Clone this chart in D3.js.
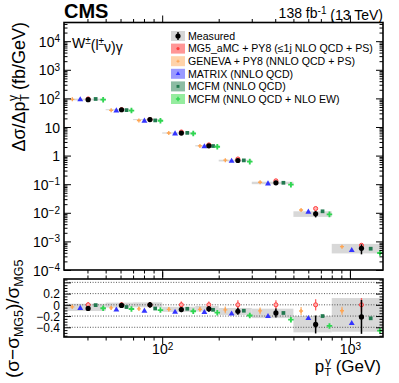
<!DOCTYPE html>
<html><head><meta charset="utf-8">
<script src="https://cdn.jsdelivr.net/npm/d3@7"></script>
<style>
body{margin:0;background:#fff}
svg{display:block}
text{font-family:"Liberation Sans",Arial,Helvetica,sans-serif;fill:#000}
</style>
</head><body>
<svg id="c" width="399" height="383"></svg>
<script>
// ---------------- data ----------------
const binLo = [30, 50, 70, 100, 150, 200, 300, 500, 800];
const binHi = [50, 70, 100, 150, 200, 300, 500, 800, 1500];

const measured        = [89.8, 40.1, 18.2, 6.13, 2.20, 0.673, 0.112, 0.00917, 0.000573];
const measuredStatErr = [3.8, 1.8, 0.9, 0.30, 0.12, 0.046, 0.0105, 0.00226, 0.00022];
const measuredTotLo   = [85.4, 38.5, 17.4, 5.86, 2.09, 0.623, 0.100, 0.00719, 0.000380];
const measuredTotHi   = [97.9, 42.1, 19.0, 6.47, 2.32, 0.718, 0.122, 0.01128, 0.000818];

const mg5     = [96.0, 40.5, 18.2, 6.70, 2.37, 0.760, 0.131, 0.0141, 0.00073];
const mg5Err  = [4.8, 2.0, 0.91, 0.40, 0.14, 0.061, 0.0105, 0.00141, 0.000088];
const geneva    = [92.6, 38.3, 16.9, 6.16, 2.18, 0.692, 0.117, 0.01255, 0.000653];
const genevaErr = [2.9, 1.2, 0.64, 0.27, 0.107, 0.046, 0.0079, 0.00099, 0.000051];
const matrix    = [90.2, 36.9, 16.2, 5.83, 2.05, 0.638, 0.104, 0.0107, 0.000489];
const matrixErr = [1.4, 0.6, 0.27, 0.10, 0.036, 0.011, 0.002, 0.0002, 0.00001];
const mcfm      = [95.5, 38.9, 17.0, 6.23, 2.16, 0.680, 0.112, 0.01128, 0.000555];
const mcfmErr   = [1.4, 0.6, 0.27, 0.10, 0.036, 0.011, 0.002, 0.0002, 0.00001];
const mcfmEW    = [90.2, 37.5, 16.5, 5.93, 2.04, 0.616, 0.0963, 0.00881, 0.000394];
const mcfmEWErr = [1.8, 0.75, 0.33, 0.12, 0.041, 0.012, 0.0019, 0.00018, 0.00001];

const yTickVals   = [1e-4, 1e-3, 1e-2, 1e-1, 1, 10, 1e2, 1e3, 1e4];
const yTickLabels = [["10","−4"],["10","−3"],["10","−2"],["10","−1"],["1",""],["10",""],["10","2"],["10","3"],["10","4"]];
const xTickVals   = [100, 1000];
const xTickLabels = [["10","2"],["10","3"]];
const ratioTickVals   = [-0.4, -0.2, 0, 0.2];
const ratioTickLabels = ["−0.4", "−0.2", "0", "0.2"];
const ratioGridVals   = [-0.4, -0.2, 0, 0.2, 0.4];

const legendLabels = ["Measured", "MG5_aMC + PY8 (≤1j NLO QCD + PS)", "GENEVA + PY8 (NNLO QCD + PS)",
                      "MATRIX (NNLO QCD)", "MCFM (NNLO QCD)", "MCFM (NNLO QCD + NLO EW)"];

// ---------------- layout ----------------
const svg = d3.select("#c");
const L = 64, R = 383, T1 = 22.5, B1 = 270, T2 = 279, B2 = 337;

const x  = d3.scaleLog().domain([30, 1500]).range([L, R]);
const y  = d3.scaleLog().domain([1e-4, 4.5e4]).range([B1, T1]);
const yr = d3.scaleLinear().domain([-0.573, 0.46]).range([B2, T2]);

const posAt = (i, f) => x(binLo[i] * Math.pow(binHi[i] / binLo[i], f));

const series = [
  {name:"mg5",    vals:mg5,    errs:mg5Err,    f:0.58, color:"#ff3b3b", fill:"#ffb0b0", shape:"circle",   size:13, legendFill:"#ff9696"},
  {name:"geneva", vals:geneva, errs:genevaErr, f:0.20, color:"#ffa552", fill:"#ffa552", shape:"plus",     size:9,  legendFill:"#ffd3aa"},
  {name:"matrix", vals:matrix, errs:matrixErr, f:0.39, color:"#3434ff", fill:"#3434ff", shape:"triangle", size:15, legendFill:"#9a9aff"},
  {name:"mcfm",   vals:mcfm,   errs:mcfmErr,   f:0.76, color:"#237a50", fill:"#237a50", shape:"square",   size:14, legendFill:"#8cbca3"},
  {name:"mcfmEW", vals:mcfmEW, errs:mcfmEWErr, f:0.94, color:"#2fd651", fill:"#2fd651", shape:"cross",    size:17, legendFill:"#95ec9f"}
];
const symType = {circle:d3.symbolCircle, plus:d3.symbolCross, triangle:d3.symbolTriangle, square:d3.symbolSquare, cross:d3.symbolCross};

function drawMarker(g, cx, cy, s, scale) {
  g.append("path").attr("d", d3.symbol().type(symType[s.shape]).size(s.size * (scale || 1))())
    .attr("transform", `translate(${cx},${cy})`)
    .attr("fill", s.fill).attr("stroke", s.shape === "circle" ? s.color : "none").attr("stroke-width", 1);
}

// ---------------- upper panel ----------------
const up = svg.append("g");
up.selectAll("rect.band").data(binLo).join("rect").attr("class","band")
  .attr("x", (d,i) => x(binLo[i])).attr("width", (d,i) => x(binHi[i]) - x(binLo[i]))
  .attr("y", (d,i) => y(measuredTotHi[i])).attr("height", (d,i) => y(measuredTotLo[i]) - y(measuredTotHi[i]))
  .attr("fill", "#d8d8d8");

// ratio panel bands + grid
const lo = svg.append("g");
lo.selectAll("rect.band").data(binLo).join("rect").attr("class","band")
  .attr("x", (d,i) => x(binLo[i])).attr("width", (d,i) => x(binHi[i]) - x(binLo[i]))
  .attr("y", (d,i) => yr((measuredTotHi[i]-mg5[i])/mg5[i]))
  .attr("height", (d,i) => yr((measuredTotLo[i]-mg5[i])/mg5[i]) - yr((measuredTotHi[i]-mg5[i])/mg5[i]))
  .attr("fill", "#d8d8d8");
lo.selectAll("line.grid").data(ratioGridVals).join("line").attr("class","grid")
  .attr("x1", L).attr("x2", R).attr("y1", d => yr(d)).attr("y2", d => yr(d))
  .attr("stroke", "#444").attr("stroke-width", 0.9).attr("stroke-dasharray", "1,1.6");

// model series
const drawOrder = [series[1], series[2], series[3], series[4], series[0]];
drawOrder.forEach(s => {
  s.vals.forEach((v, i) => {
    const cx = posAt(i, s.f);
    const e = s.errs[i];
    up.append("line").attr("x1", cx).attr("x2", cx).attr("y1", y(v + e)).attr("y2", y(Math.max(v - e, 1e-6)))
      .attr("stroke", s.color).attr("stroke-width", 1.3).attr("opacity", 0.8);
    drawMarker(up, cx, y(v), s);
    const r = (v - mg5[i]) / mg5[i], re = e / mg5[i];
    lo.append("line").attr("x1", cx).attr("x2", cx).attr("y1", yr(r + re)).attr("y2", yr(r - re))
      .attr("stroke", s.color).attr("stroke-width", 1.3).attr("opacity", 0.8);
    drawMarker(lo, cx, yr(r), s);
  });
});

// measured points
measured.forEach((v, i) => {
  const cx = posAt(i, 0.58);
  up.append("line").attr("x1", cx).attr("x2", cx)
    .attr("y1", y(v + measuredStatErr[i])).attr("y2", y(v - measuredStatErr[i]))
    .attr("stroke", "#000").attr("stroke-width", 1.5);
  up.append("circle").attr("cx", cx).attr("cy", y(v)).attr("r", 2.6).attr("fill", "#000");
  const r = (v - mg5[i]) / mg5[i], re = measuredStatErr[i] / mg5[i];
  lo.append("line").attr("x1", cx).attr("x2", cx).attr("y1", yr(r + re)).attr("y2", yr(r - re))
    .attr("stroke", "#000").attr("stroke-width", 1.5);
  lo.append("circle").attr("cx", cx).attr("cy", yr(r)).attr("r", 2.6).attr("fill", "#000");
});

// ---------------- axes ----------------
function minorLog(lo_, hi_) {
  const out = [];
  for (let d = Math.pow(10, Math.floor(Math.log10(lo_))); d < hi_; d *= 10)
    for (let k = 2; k <= 9; k++) { const v = k * d; if (v > lo_ && v < hi_) out.push(v); }
  return out;
}
const xMinor = minorLog(30, 1500);
const yMinor = minorLog(1e-4, 4.5e4);
const rMinor = d3.range(-0.55, 0.46, 0.05).map(v => +v.toFixed(2)).filter(v => Math.abs(v*5 - Math.round(v*5)) > 1e-6);
const rMajor = [-0.4, -0.2, 0, 0.2, 0.4];

function ax(gen, tr) {
  const g = svg.append("g").attr("transform", tr).call(gen);
  g.select(".domain").remove();
  g.selectAll(".tick line").attr("stroke", "#000").attr("stroke-width", 1);
  return g;
}
const yL = ax(d3.axisLeft(y).tickValues(yTickVals).tickSize(-7).tickFormat(""), `translate(${L},0)`);
ax(d3.axisLeft(y).tickValues(yMinor).tickSize(-3.5).tickFormat(""), `translate(${L},0)`);
ax(d3.axisRight(y).tickValues(yTickVals).tickSize(-7).tickFormat(""), `translate(${R},0)`);
ax(d3.axisRight(y).tickValues(yMinor).tickSize(-3.5).tickFormat(""), `translate(${R},0)`);
yL.selectAll(".tick").each(function(d, i) {
  const t = d3.select(this).append("text").attr("x", -4).attr("dy", "0.36em")
    .attr("text-anchor", "end").style("font-size", "14px");
  t.append("tspan").text(yTickLabels[i][0]);
  if (yTickLabels[i][1]) t.append("tspan").attr("dy", "-0.45em").style("font-size", "10px").text(yTickLabels[i][1]);
});
[[B1, d3.axisTop], [T1, d3.axisBottom]].forEach(([yy, gen]) => {
  ax(gen(x).tickValues(xTickVals).tickSize(-7).tickFormat(""), `translate(0,${yy})`);
  ax(gen(x).tickValues(xMinor).tickSize(-3.5).tickFormat(""), `translate(0,${yy})`);
});
ax(d3.axisLeft(yr).tickValues(rMajor).tickSize(-7).tickFormat(""), `translate(${L},0)`);
ax(d3.axisLeft(yr).tickValues(rMinor).tickSize(-3.5).tickFormat(""), `translate(${L},0)`);
ax(d3.axisRight(yr).tickValues(rMajor).tickSize(-7).tickFormat(""), `translate(${R},0)`);
ax(d3.axisRight(yr).tickValues(rMinor).tickSize(-3.5).tickFormat(""), `translate(${R},0)`);
ax(d3.axisLeft(yr).tickValues(ratioTickVals).tickSize(0).tickPadding(4).tickFormat((d,i) => ratioTickLabels[i]), `translate(${L},0)`)
  .selectAll("text").style("font-size", "12px").attr("dy", "0.36em");
const xB = ax(d3.axisTop(x).tickValues(xTickVals).tickSize(-7).tickFormat(""), `translate(0,${B2})`);
ax(d3.axisTop(x).tickValues(xMinor).tickSize(-3.5).tickFormat(""), `translate(0,${B2})`);
ax(d3.axisBottom(x).tickValues(xTickVals).tickSize(-7).tickFormat(""), `translate(0,${T2})`);
ax(d3.axisBottom(x).tickValues(xMinor).tickSize(-3.5).tickFormat(""), `translate(0,${T2})`);
xB.selectAll(".tick").each(function(d, i) {
  const t = d3.select(this).append("text").attr("y", 17).attr("text-anchor", "middle").style("font-size", "14px");
  t.append("tspan").text(xTickLabels[i][0]);
  t.append("tspan").attr("dy", "-0.45em").style("font-size", "10px").text(xTickLabels[i][1]);
});

[[T1, B1], [T2, B2]].forEach(([a, b]) => {
  svg.append("rect").attr("x", L).attr("y", a).attr("width", R - L).attr("height", b - a)
    .attr("fill", "none").attr("stroke", "#000").attr("stroke-width", 1.6);
});

// ---------------- texts ----------------
svg.append("text").attr("x", 64).attr("y", 18).style("font-size", "20px").style("font-weight", "bold").text("CMS");
const lumi = svg.append("text").attr("x", 383).attr("y", 18).attr("text-anchor", "end").style("font-size", "14px");
lumi.append("tspan").text("138 fb");
lumi.append("tspan").attr("dy", "-0.45em").style("font-size", "10px").text("-1");
lumi.append("tspan").attr("dy", "0.45em").text(" (13 TeV)");

const proc = svg.append("text").attr("x", 72).attr("y", 48).style("font-size", "14px");
proc.append("tspan").text("W");
proc.append("tspan").attr("dy", "-0.45em").style("font-size", "10px").text("±");
proc.append("tspan").attr("dy", "0.45em").text("(l");
proc.append("tspan").attr("dy", "-0.45em").style("font-size", "10px").text("±");
proc.append("tspan").attr("dy", "0.45em").text("ν)γ");

const yt = svg.append("text").attr("transform", "translate(25,22) rotate(-90)").attr("text-anchor", "end").style("font-size", "18px");
yt.append("tspan").text("Δσ/Δp");
yt.append("tspan").attr("dy", 4).style("font-size", "12px").text("T");
yt.append("tspan").attr("dx", -7).attr("dy", -12).style("font-size", "12px").text("γ");
yt.append("tspan").attr("dy", 8).text(" (fb/GeV)");

const yt2 = svg.append("text").attr("transform", "translate(19,378) rotate(-90)").attr("text-anchor", "start").style("font-size", "19px");
yt2.append("tspan").text("(σ−σ");
yt2.append("tspan").attr("dy", 4).style("font-size", "12.5px").text("MG5");
yt2.append("tspan").attr("dy", -4).text(")/σ");
yt2.append("tspan").attr("dy", 4).style("font-size", "12.5px").text("MG5");

const xt = svg.append("text").attr("x", 381).attr("y", 372).attr("text-anchor", "end").style("font-size", "17px");
xt.append("tspan").text("p");
xt.append("tspan").attr("dy", 4).style("font-size", "11.5px").text("T");
xt.append("tspan").attr("dx", -6).attr("dy", -11).style("font-size", "11.5px").text("γ");
xt.append("tspan").attr("dy", 7).text(" (GeV)");

// ---------------- legend ----------------
const lg = svg.append("g");
const legendFills = ["#d6d6d6"].concat(series.map(s => s.legendFill));
legendLabels.forEach((lab, i) => {
  const cy = 36 + i * 12.6;
  lg.append("rect").attr("x", 171).attr("y", cy - 5).attr("width", 14).attr("height", 10).attr("fill", legendFills[i]);
  if (i === 0) {
    lg.append("line").attr("x1", 178).attr("x2", 178).attr("y1", cy - 4).attr("y2", cy + 4).attr("stroke", "#000").attr("stroke-width", 1.4);
    lg.append("circle").attr("cx", 178).attr("cy", cy).attr("r", 2.6).attr("fill", "#000");
  } else {
    const s = series[i - 1];
    lg.append("path").attr("d", d3.symbol().type(symType[s.shape]).size(s.size * 0.6)())
      .attr("transform", `translate(178,${cy})`).attr("fill", s.color);
  }
  lg.append("text").attr("x", 188).attr("y", cy).attr("dy", "0.36em").style("font-size", "10.6px").text(lab);
});
</script>
</body></html>
